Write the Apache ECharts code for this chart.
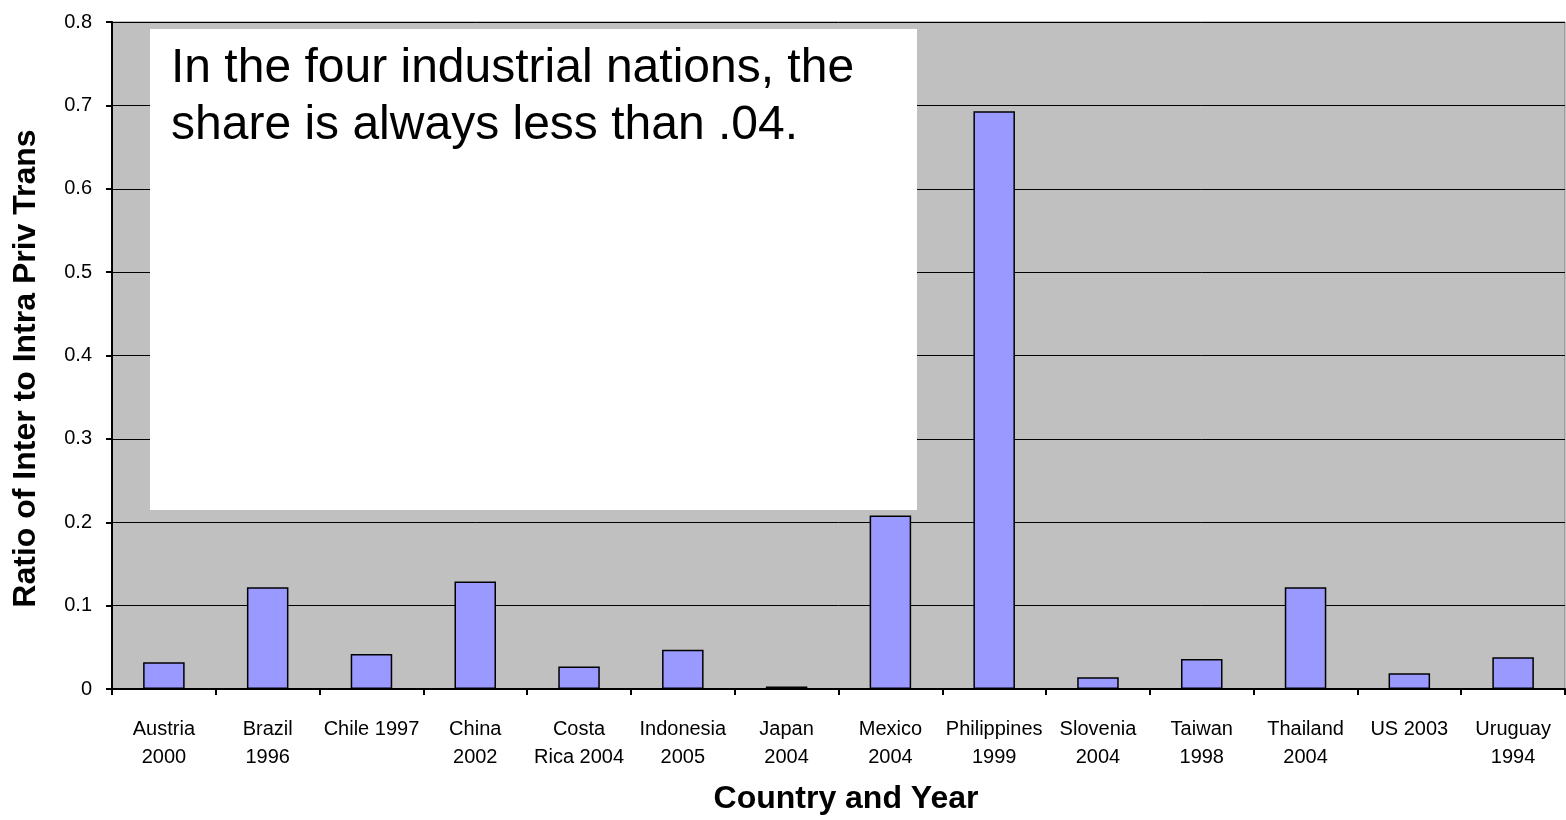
<!DOCTYPE html>
<html><head><meta charset="utf-8">
<script src="https://cdn.jsdelivr.net/npm/echarts@6/dist/echarts.min.js"></script>
<style>html,body{margin:0;padding:0;background:#fff}#c{width:1566px;height:820px}</style>
</head><body><div id="c"></div>
<script>
const categories = ["Austria\n2000","Brazil\n1996","Chile 1997","China\n2002","Costa\nRica 2004","Indonesia\n2005","Japan\n2004","Mexico\n2004","Philippines\n1999","Slovenia\n2004","Taiwan\n1998","Thailand\n2004","US 2003","Uruguay\n1994"];
const values = [0.032,0.122,0.042,0.129,0.027,0.047,0.003,0.208,0.693,0.014,0.036,0.122,0.019,0.038];
const yTicks = [0,0.1,0.2,0.3,0.4,0.5,0.6,0.7,0.8];
const noteText = "In the four industrial nations, the\nshare is always less than .04.";
const F = "'Liberation Sans', Arial, sans-serif";
const chart = echarts.init(document.getElementById('c'));
chart.setOption({
  animation:false,
  grid:{left:112,right:1,top:22,bottom:129,show:true,backgroundColor:'#C0C0C0',borderColor:'#808080',borderWidth:1},
  xAxis:{type:'category',data:categories,
    axisLine:{lineStyle:{color:'#000',width:2}},
    axisTick:{show:true,length:6,lineStyle:{color:'#000',width:2},alignWithLabel:false},
    axisLabel:{interval:0,color:'#000',fontFamily:F,fontSize:20,lineHeight:28,margin:26},
    name:'Country and Year',nameLocation:'middle',nameGap:94,
    nameTextStyle:{color:'#000',fontFamily:F,fontSize:32,fontWeight:'bold',padding:[0,0,0,15]}},
  yAxis:{type:'value',min:0,max:0.8,interval:0.1,
    axisLine:{show:true,lineStyle:{color:'#000',width:2}},
    axisTick:{show:true,length:6,lineStyle:{color:'#000',width:2}},
    splitLine:{show:true,lineStyle:{color:'#000',width:1}},
    axisLabel:{color:'#000',fontFamily:F,fontSize:20,margin:20,
      formatter:v=>{const t=yTicks.find(x=>Math.abs(x-v)<1e-9);return t===0?'0':String(t)}},
    name:'Ratio of Inter to Intra Priv Trans',nameLocation:'middle',nameGap:70,
    nameTextStyle:{color:'#000',fontFamily:F,fontSize:32,fontWeight:'bold',padding:[0,26,0,0]}},
  series:[{type:'bar',data:values,barWidth:'40%',
    itemStyle:{color:'#9999FF',borderColor:'#000',borderWidth:1.5}}],
  graphic:[
    {type:'rect',left:150,top:29,shape:{width:767,height:481},style:{fill:'#fff'},z:100},
    {type:'text',left:171,top:40,style:{text:noteText,fill:'#000',font:'48px '+F,lineHeight:57},z:101}
  ]
});
</script></body></html>
